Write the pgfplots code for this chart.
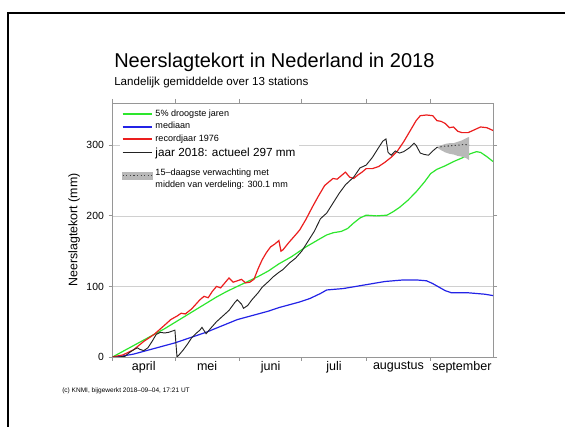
\documentclass[border=0pt]{standalone}
\usepackage{fontspec}
\setmainfont{Liberation Sans}
\usepackage{pgfplots}
\pgfplotsset{compat=1.18}
\definecolor{kgreen}{RGB}{45,230,45}
\definecolor{kblue}{RGB}{35,35,230}
\definecolor{kred}{RGB}{235,30,30}
\definecolor{kblack}{RGB}{35,35,35}
\definecolor{kband}{RGB}{185,185,185}
\definecolor{kaxis}{RGB}{150,150,150}
\begin{document}
\begin{tikzpicture}[x=0.75pt,y=0.75pt]
\useasboundingbox (0,0) rectangle (565,427);
\draw[line width=1.5pt] (7.5,0) -- (7.5,413.5) -- (565,413.5);
\node[anchor=base west, font=\fontsize{15}{17}\selectfont, inner sep=0] at (114,359) {Neerslagtekort in Nederland in 2018};
\node[anchor=base west, font=\fontsize{8.7}{10}\selectfont, inner sep=0] at (114,341) {Landelijk gemiddelde over 13 stations};
\node[anchor=base west, font=\fontsize{4.9}{6}\selectfont, inner sep=0] at (62,34) {(c) KNMI, bijgewerkt 2018--09--04, 17:21 UT};
\begin{axis}[
  at={(84.4pt,52.5pt)}, anchor=south west, scale only axis,
  width=285.4pt, height=190.5pt,
  xmin=0, xmax=183, ymin=0, ymax=360,
  axis line style={kaxis, line width=0.6pt},
  tick style={kaxis, line width=0.6pt},
  tick pos=both, tick align=outside, major tick length=3pt,
  xtick={0,30,61,91,122,153}, xticklabels={,,,,,},
  extra x ticks={15,45.5,76,106.5,137.5,168},
  extra x tick labels={april,mei,juni,juli,augustus,september},
  extra x tick style={major tick length=0pt},
  ytick={0,100,200,300},
  ymajorgrids, grid style={kaxis!45, line width=0.5pt},
  ylabel={Neerslagtekort (mm)},
  ylabel style={font=\fontsize{9.3}{11}\selectfont, yshift=-2pt},
  yticklabel style={font=\fontsize{7.8}{9}\selectfont},
  xticklabel style={font=\fontsize{9.4}{11}\selectfont},
  /pgf/number format/assume math mode=true,
  legend style={at={(0.02,0.99)}, anchor=north west, draw=none, fill=white,
    font=\fontsize{6.8}{9}\selectfont, cells={anchor=west, align=left},
    inner sep=1pt, row sep=-1pt,
    /tikz/every even column/.append style={column sep=3pt}},
]
\addlegendimage{legend image code/.code={\draw[kgreen, line width=1.3pt] (0pt,0pt) -- (22pt,0pt);}}
\addlegendentry{5\% droogste jaren}
\addlegendimage{legend image code/.code={\draw[kblue, line width=1.3pt] (0pt,0pt) -- (22pt,0pt);}}
\addlegendentry{mediaan}
\addlegendimage{legend image code/.code={\draw[kred, line width=1.3pt] (0pt,0pt) -- (22pt,0pt);}}
\addlegendentry{recordjaar 1976}
\addlegendimage{legend image code/.code={\draw[kblack, line width=1pt] (0pt,0pt) -- (22pt,0pt);}}
\addlegendentry{{\fontsize{8.8}{10}\selectfont jaar 2018: actueel 297 mm}}
\addlegendimage{legend image code/.code={\fill[kband] (0pt,-2.5pt) rectangle (22pt,2.5pt); \draw[gray!55!black, line width=0.8pt, dash pattern=on 0.9pt off 1.8pt] (0pt,0pt) -- (22pt,0pt);}}
\addlegendentry{\rule{0pt}{10pt}15--daagse verwachting met\\midden van verdeling: 300.1 mm}
\addplot[kgreen, line width=0.9pt, forget plot] coordinates {
(0,0)(5,8)(10,16)(15,24)(20,32)(25,40)(30,49)(35,58)(40,67)(45,76)(50,85)(55,93)(60,100)(65,107)(70,114)(75,122)(80,132)(86,142)(93,156)(100,168)(103,173)(106,176)(110,178)(113,182)(116,190)(119,197)(122,201)(127,200)(132,201)(135,206)(138,212)(142,222)(146,234)(150,248)(153,260)(156,266)(160,271)(164,277)(168,282)(172,288)(175,291)(177,290)(180,284)(183,277)};
\addplot[kblue, line width=0.9pt, forget plot] coordinates {
(0,0)(5,1.5)(10,4)(15,8)(20,12)(25,16)(30,20)(35,25)(40,30)(45,35)(50,41)(55,47)(60,53)(65,57)(70,61)(75,65)(80,70)(85,74)(90,78)(95,83)(100,90)(103,95)(107,96)(111,97)(115,99)(119,101)(123,103)(127,105)(131,107)(135,108)(139,109)(143,109)(147,109)(151,108)(154,104)(157,99)(160,94)(163,91)(167,91)(171,91)(175,90)(179,89)(183,87)};
\addplot[kred, line width=0.9pt, forget plot] coordinates {
(0,0)(5,3)(10,10)(15,22)(20,32)(25,45)(28,53)(31,58)(33,62)(35,61)(38,68)(42,81)(44,86)(46,84)(48,93)(50,100)(52,98)(54,105)(56,112)(58,106)(60,108)(62,110)(64,105)(66,106)(68,110)(70,125)(72,138)(74,148)(76,156)(78,160)(80,165)(81,150)(82,152)(85,163)(88,173)(90,180)(93,195)(96,212)(99,228)(102,243)(104,248)(106,253)(108,252)(110,257)(112,262)(114,255)(116,253)(118,258)(120,262)(122,267)(125,267)(128,270)(131,276)(134,283)(137,292)(140,305)(143,320)(146,335)(148,342)(151,343)(154,342)(156,335)(158,334)(160,331)(162,325)(164,326)(166,320)(168,318)(171,318)(174,322)(177,326)(180,325)(183,321)};
\addplot[fill=kband, draw=none, forget plot] coordinates {
(156,297)(158,300)(160,302)(162,303)(164,303)(166,305)(168,307)(170,310)(171.5,312)
(171.5,279)(170,282)(168,284)(166,285)(164,287)(162,288)(160,290)(158,293)(156,297)} -- cycle;
\addplot[gray!55!black, line width=0.8pt, dash pattern=on 0.9pt off 1.8pt, forget plot] coordinates {
(156,297)(158,298)(160,299)(162,299)(164,300)(166,300)(168,301)(170,301)(171.5,300)};
\addplot[kblack, line width=0.7pt, forget plot] coordinates {
(0,0)(3,0)(6,1)(8,6)(10,10)(12,13)(13,11)(15,9)(17,13)(19,22)(21,32)(23,35)(25,34)(27,35)(29,37)(30,38)(31,0)(32,3)(34,10)(36,18)(38,27)(40,33)(42,38)(43,42)(45,33)(47,40)(50,50)(53,58)(56,66)(59,78)(60,81)(62,75)(63,69)(65,73)(67,81)(70,91)(72,99)(75,107)(77,113)(80,120)(82,124)(85,133)(88,140)(91,150)(94,164)(97,178)(100,196)(103,204)(106,218)(109,232)(112,244)(116,255)(119,268)(122,272)(125,283)(128,297)(130,306)(131.5,309)(132.5,290)(134,286)(136,292)(138,289)(140,291)(143,297)(145,303)(146,300)(148,289)(150,287)(152,286)(154,292)(156,297)};
\end{axis}
\end{tikzpicture}
\end{document}
